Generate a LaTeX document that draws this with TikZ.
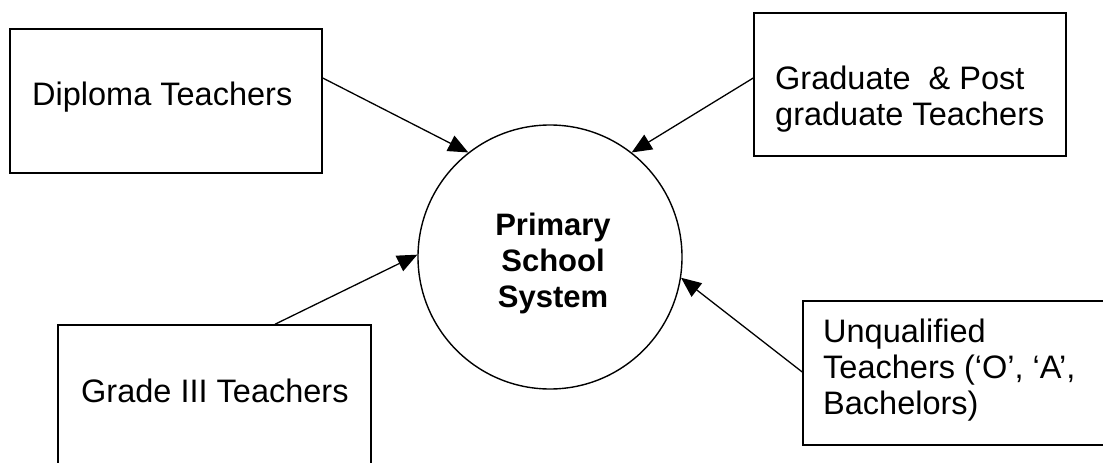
\documentclass[tikz,border=0pt]{standalone}
\usepackage{fontspec}
\setmainfont{Liberation Sans}
\usetikzlibrary{arrows.meta}
\tikzset{
  box/.style={draw, line width=1.5pt, rectangle, inner sep=0pt},
  proc/.style={draw, line width=1.4pt, circle, inner sep=0pt, minimum size=264pt},
  lbl/.style={inner sep=0pt, font=\fontsize{32.5}{35.5}\selectfont, align=left},
  plbl/.style={inner sep=0pt, font=\fontsize{31}{36}\selectfont\bfseries, align=center},
  flow/.style={line width=1.3pt, -{Triangle[length=20pt,width=17pt]}}
}
\begin{document}
\begin{tikzpicture}[x=1pt,y=-1pt]
\clip (0,0) rectangle (1103,463);
\fill[white] (0,0) rectangle (1103,463);
% boxes
\node[box, minimum width=312pt, minimum height=144pt] (dip) at (166,101) {};
\node[box, minimum width=312pt, minimum height=143pt] (grad) at (910,84.5) {};
\node[box, minimum width=313pt, minimum height=155pt] (g3) at (214.5,402.5) {};
\node[box, minimum width=317pt, minimum height=144pt] (unq) at (961.5,373) {};
\node[proc] (circ) at (550,257) {};
% texts
\node[lbl, anchor=base west] (tdip) at (32,105) {Diploma Teachers};
\node[lbl, anchor=base west] (tgrad) at (775,125) {Graduate\ \ \& Post\\graduate Teachers};
\node[lbl, anchor=base west] (tg3) at (81,402) {Grade III Teachers};
\node[lbl, anchor=base west, font=\fontsize{32.5}{36}\selectfont] (tunq) at (823,414) {Unqualified\\Teachers (‘O’, ‘A’,\\Bachelors)};
\node[plbl, anchor=base] (tcirc) at (553,307) {Primary\\School\\System};
% connectors
\draw[flow] (dip.east |- 0,78) -- (circ.128);
\draw[flow] (grad.west |- 0,78) -- (circ.52);
\draw[flow] (g3.north -| 275,0) -- (circ.179);
\draw[flow] (unq.west |- 0,372) -- (circ.-9);
\end{tikzpicture}
\end{document}
